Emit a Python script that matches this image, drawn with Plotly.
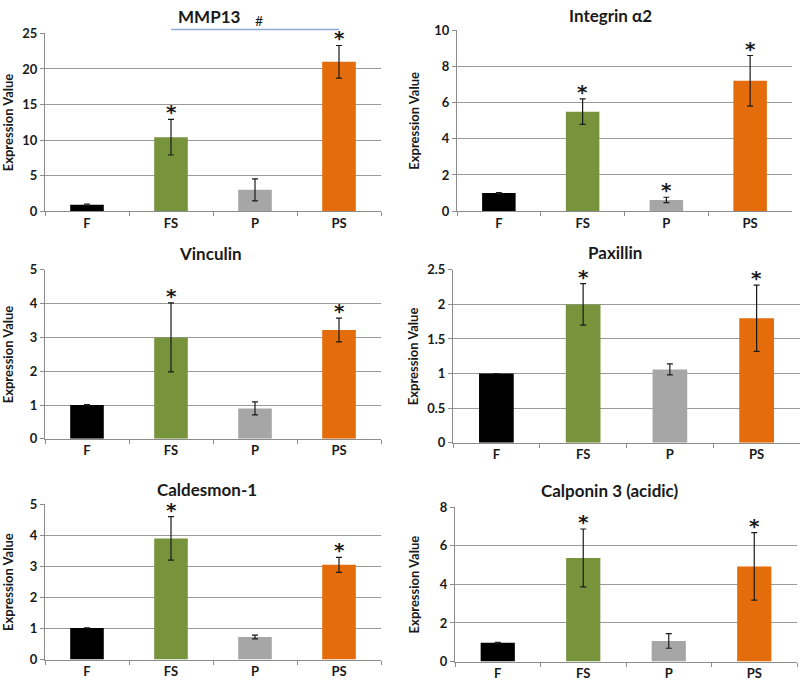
import plotly.graph_objects as go

W, H = 800, 693
categories = ["F", "FS", "P", "PS"]
bar_colors = ["#000000", "#77933C", "#A6A6A6", "#E46C0A"]

titles = ["MMP13", "Integrin α2", "Vinculin", "Paxillin", "Caldesmon-1", "Calponin 3 (acidic)"]
mmp13_values = [0.9, 10.4, 3.0, 21.0]
mmp13_errors = [0.1, 2.5, 1.55, 2.3]
integrin_values = [1.0, 5.5, 0.62, 7.2]
integrin_errors = [0.03, 0.7, 0.15, 1.4]
vinculin_values = [1.0, 3.0, 0.9, 3.22]
vinculin_errors = [0.01, 1.02, 0.19, 0.35]
paxillin_values = [1.0, 2.0, 1.06, 1.8]
paxillin_errors = [0.0, 0.3, 0.08, 0.48]
caldesmon_values = [1.02, 3.9, 0.73, 3.05]
caldesmon_errors = [0.0, 0.7, 0.06, 0.24]
calponin_values = [0.97, 5.37, 1.07, 4.93]
calponin_errors = [0.03, 1.5, 0.38, 1.75]
stars = [
    [False, True, False, True],
    [False, True, True, True],
    [False, True, False, True],
    [False, True, False, True],
    [False, True, False, True],
    [False, True, False, True],
]
y_max = [25, 10, 5, 2.5, 5, 8]
y_dtick = [5, 2, 1, 0.5, 1, 2]

values = [mmp13_values, integrin_values, vinculin_values, paxillin_values, caldesmon_values, calponin_values]
errors = [mmp13_errors, integrin_errors, vinculin_errors, paxillin_errors, caldesmon_errors, calponin_errors]

# pixel boxes of plot areas (x0, x1, ytop, ybottom)
boxes = [
    (45, 381, 26, 208),
    (457, 792, 22.7, 208),
    (45, 381, 268, 441),
    (453, 800, 268, 445),
    (45, 381, 508, 667),
    (455, 797, 511, 669),
]
title_pos = [(209, 9), (610, 8), (210, 251), (615, 250), (207, 493), (610, 494)]
ytitle_x = [8, 414, 8, 413, 8, 414]

FONT = "Lato"
fig = go.Figure()
layout = dict(
    width=W, height=H, autosize=False,
    margin=dict(l=0, r=0, t=0, b=0),
    paper_bgcolor="white", plot_bgcolor="white",
    showlegend=False, font=dict(family=FONT, color="#1a1a1a"),
    annotations=[], shapes=[],
)

for i in range(6):
    ax = "" if i == 0 else str(i + 1)
    x0, x1, yt, yb = boxes[i]
    fig.add_trace(go.Bar(
        x=categories, y=values[i],
        marker=dict(color=bar_colors, line=dict(width=0)),
        error_y=dict(type="data", array=errors[i], color="#1a1a1a", thickness=1.2, width=3),
        xaxis="x" + ax, yaxis="y" + ax, width=0.4, hoverinfo="skip",
    ))
    layout["xaxis" + ax] = dict(
        domain=[x0 / W, x1 / W], anchor="y" + ax,
        showline=True, linecolor="#8c8c8c", linewidth=1,
        ticks="outside", tickson="boundaries", ticklen=4, tickcolor="#8c8c8c",
        tickfont=dict(family=FONT, size=13, color="#1a1a1a", weight="bold"),
        showgrid=False, fixedrange=True,
    )
    layout["yaxis" + ax] = dict(
        domain=[1 - yb / H, 1 - yt / H], anchor="x" + ax,
        range=[0, y_max[i]], dtick=y_dtick[i], tick0=0,
        showline=True, linecolor="#8c8c8c", linewidth=1,
        ticks="outside", ticklen=4, tickcolor="#8c8c8c",
        showgrid=True, gridcolor="#9a9a9a", gridwidth=1,
        zeroline=False,
        tickfont=dict(family=FONT, size=13, color="#1a1a1a", weight="bold"),
        fixedrange=True,
    )
    tx, ty = title_pos[i]
    layout["annotations"].append(dict(
        text="<b>%s</b>" % titles[i], x=tx / W, y=1 - ty / H, xref="paper", yref="paper",
        xanchor="center", yanchor="middle", showarrow=False,
        font=dict(family=FONT, size=17, color="#1a1a1a"),
    ))
    layout["annotations"].append(dict(
        text="<b>Expression Value</b>", x=ytitle_x[i] / W, y=1 - (yt + yb) / 2 / H,
        xref="paper", yref="paper", xanchor="center", yanchor="middle",
        textangle=-90, showarrow=False, font=dict(family=FONT, size=13, color="#1a1a1a"),
    ))
    for j, c in enumerate(categories):
        if stars[i][j]:
            layout["annotations"].append(dict(
                text="<b>*</b>", x=c, y=values[i][j] + errors[i][j],
                xref="x" + ax, yref="y" + ax, xanchor="center", yanchor="middle",
                yshift=7, showarrow=False,
                font=dict(family="DejaVu Sans", size=20, color="#1a1a1a"),
            ))

# significance bar and hash on MMP13
layout["shapes"].append(dict(
    type="line", xref="x", yref="paper", x0=1, x1=3,
    y0=1 - 22 / H, y1=1 - 22 / H, line=dict(color="#8eaadb", width=1.5),
))
layout["annotations"].append(dict(
    text="#", x=259 / W, y=1 - 13 / H, xref="paper", yref="paper",
    xanchor="center", yanchor="middle", showarrow=False,
    font=dict(family=FONT, size=14, color="#1a1a1a"),
))

fig.update_layout(**layout)
fig.write_html(
    "out.html",
    config={"displayModeBar": False, "staticPlot": True},
    post_script="document.body.style.margin='0';document.body.style.padding='0';"
                "document.documentElement.style.overflow='hidden';",
)
